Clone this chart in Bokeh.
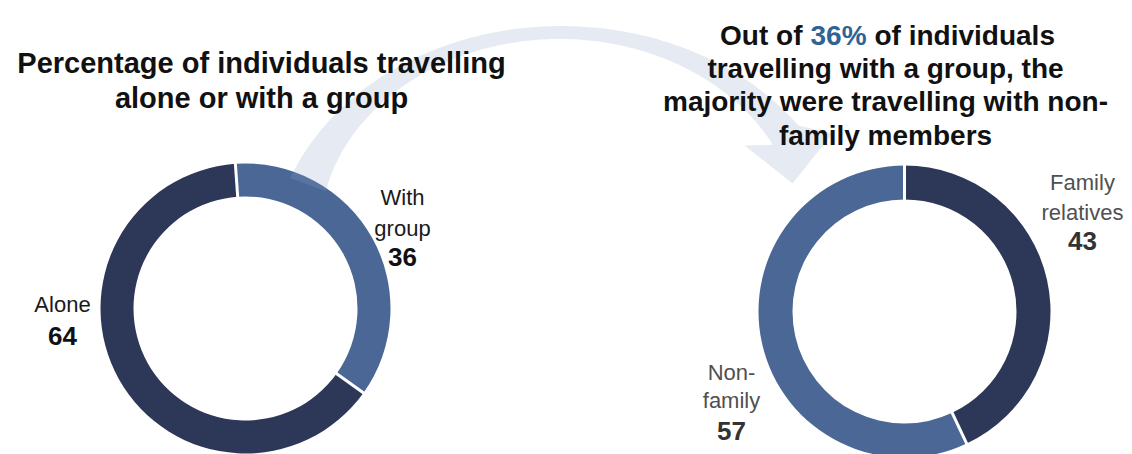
import numpy as np
from bokeh.plotting import figure
from bokeh.models import Range1d
from bokeh.core.properties import value
from bokeh.embed import file_html
from bokeh.resources import INLINE

# ---------------- data ----------------
left_categories = ["With group", "Alone"]
left_values = [36, 64]
left_label_lines = [["With", "group"], ["Alone"]]

right_categories = ["Family relatives", "Non-family"]
right_values = [43, 57]
right_label_lines = [["Family", "relatives"], ["Non-", "family"]]

left_title = ["Percentage of individuals travelling", "alone or with a group"]
right_title_pre = "Out of"
right_title_highlight = "36%"
right_title_post = "of individuals"
right_title_rest = ["travelling with a group, the",
                    "majority were travelling with non-",
                    "family members"]

# ---------------- styles ----------------
DARK = "#2d3757"
MID = "#4a6795"
FONT = value("Liberation Sans")

W, H = 1132, 454
p = figure(width=W, height=H, x_range=Range1d(0, W), y_range=Range1d(0, H),
           output_backend="svg", toolbar_location=None, min_border=0)
p.axis.visible = False
p.grid.visible = False
p.outline_line_color = None
p.background_fill_color = "white"
p.border_fill_color = "white"


def X(sx):
    return sx


def Y(sy):
    return H - sy


def donut(cx, cy, r_in, r_out, vals, colors, start_deg):
    fr = np.array(vals, dtype=float) / float(sum(vals))
    cum = np.concatenate([[0.0], np.cumsum(fr)]) * 360.0 + start_deg
    starts = np.radians(90.0 - cum[:-1])
    ends = np.radians(90.0 - cum[1:])
    p.annular_wedge(x=cx, y=cy, inner_radius=r_in, outer_radius=r_out,
                    start_angle=list(starts), end_angle=list(ends),
                    direction="clock", fill_color=colors, line_color=None)
    b = np.radians(90.0 - cum[:-1])
    p.segment(x0=list(cx + (r_in - 2) * np.cos(b)), y0=list(cy + (r_in - 2) * np.sin(b)),
              x1=list(cx + (r_out + 2) * np.cos(b)), y1=list(cy + (r_out + 2) * np.sin(b)),
              line_color="white", line_width=3)


# left donut: With group (mid) then Alone (dark), clockwise from top
donut(X(245), Y(308), 112, 145, left_values, [MID, DARK], -4)
# right donut: Family relatives (dark) then Non-family (mid)
donut(X(904), Y(311), 112, 146, right_values, [DARK, MID], 0)

# ---------------- curved arrow (screen-pixel geometry) ----------------
ecx, ecy, ea, eb = 560.0, 247.0, 264.0, 215.0
phi = np.radians(np.linspace(-163.0, -31.5, 160))
cxs = ecx + ea * np.cos(phi)
cys = ecy + eb * np.sin(phi)
nx = np.cos(phi) / ea
ny = np.sin(phi) / eb
nn = np.hypot(nx, ny)
nx, ny = nx / nn, ny / nn
coef = np.polyfit(np.radians([-163.0, -90.0, -31.5]), [19.0, 6.5, 16.0], 2)
hw = np.polyval(coef, phi)
ox, oy = cxs + hw * nx, cys + hw * ny
ix, iy = cxs - hw * nx, cys - hw * ny
head_x = [832.0, 792.0, 744.0]
head_y = [133.0, 183.0, 145.0]
ax_s = list(ox) + head_x + list(ix[::-1])
ay_s = list(oy) + head_y + list(iy[::-1])
p.patch([X(v) for v in ax_s], [Y(v) for v in ay_s],
        fill_color=(141, 164, 200), fill_alpha=0.22, line_color=None)

# ---------------- titles ----------------
p.text(x=[X(261), X(261)], y=[Y(62), Y(97)], text=left_title,
       text_font=FONT, text_font_size="29px", text_font_style="bold",
       text_align="center", text_baseline="alphabetic", text_color="#111111")

hx = 810
p.text(x=[X(hx - 8)], y=[Y(35)], text=[right_title_pre],
       text_font=FONT, text_font_size="28px", text_font_style="bold",
       text_align="right", text_baseline="alphabetic", text_color="#111111")
p.text(x=[X(hx)], y=[Y(35)], text=[right_title_highlight],
       text_font=FONT, text_font_size="28px", text_font_style="bold",
       text_align="left", text_baseline="alphabetic", text_color="#2e6397")
p.text(x=[X(hx + 64)], y=[Y(35)], text=[right_title_post],
       text_font=FONT, text_font_size="28px", text_font_style="bold",
       text_align="left", text_baseline="alphabetic", text_color="#111111")
p.text(x=[X(885)] * 3, y=[Y(68), Y(101), Y(135)], text=right_title_rest,
       text_font=FONT, text_font_size="28px", text_font_style="bold",
       text_align="center", text_baseline="alphabetic", text_color="#111111")

# ---------------- labels ----------------
def label(cx_s, base_ys, lines, num, color, num_color):
    p.text(x=[X(cx_s)] * len(lines), y=[Y(v) for v in base_ys[:len(lines)]], text=lines,
           text_font=FONT, text_font_size="22px", text_align="center",
           text_baseline="alphabetic", text_color=color)
    p.text(x=[X(cx_s)], y=[Y(base_ys[-1])], text=[str(num)],
           text_font=FONT, text_font_size="26px", text_font_style="bold",
           text_align="center", text_baseline="alphabetic", text_color=num_color)


label(402, [197, 228, 256], left_label_lines[0], left_values[0], "#1a1a1a", "#111111")
label(62, [304, 335], left_label_lines[1], left_values[1], "#1a1a1a", "#111111")
label(1082, [182, 212, 240], right_label_lines[0], right_values[0], "#505050", "#333333")
label(731, [372, 400, 430], right_label_lines[1], right_values[1], "#505050", "#333333")

open("out.html", "w").write(file_html(p, INLINE))
